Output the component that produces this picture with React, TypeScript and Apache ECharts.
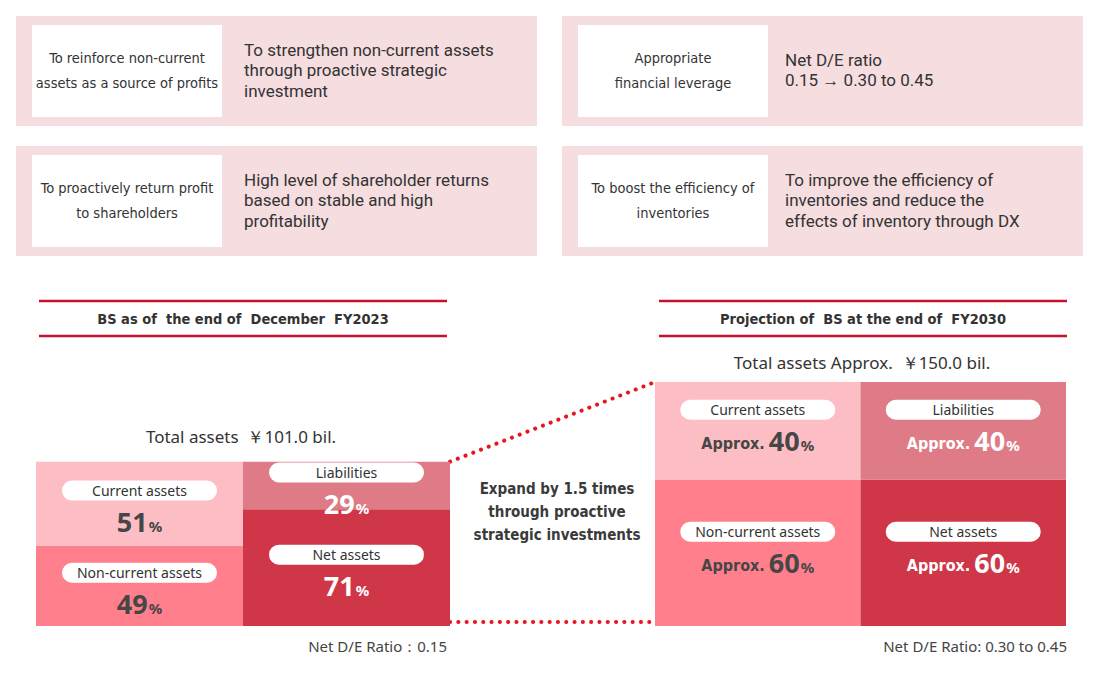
import React, { useEffect, useRef } from "react";
import * as echarts from "echarts";

// ---------- data ----------
const bsCategories = ["Assets", "Liabilities and net assets"];
const bsTitles = ["BS as of  the end of  December  FY2023", "Projection of  BS at the end of  FY2030"];
const bsTotalLabels = ["Total assets  ￥101.0 bil.", "Total assets Approx.  ￥150.0 bil."];
const bsTotals = [101.0, 150.0];
const topNames = ["Current assets", "Liabilities"];
const bottomNames = ["Non-current assets", "Net assets"];
const topPct2023 = [51, 29];
const bottomPct2023 = [49, 71];
const topPct2030 = [40, 40];
const bottomPct2030 = [60, 60];
const approxPrefix = ["", "Approx."];
const deRatioLabels = ["Net D/E Ratio：0.15", "Net D/E Ratio: 0.30 to 0.45"];
const middleText = "Expand by 1.5 times\nthrough proactive\nstrategic investments";

const policyHeads = [
  "To reinforce non-current\nassets as a source of profits",
  "Appropriate\nfinancial leverage",
  "To proactively return profit\nto shareholders",
  "To boost the efficiency of\ninventories",
];
const policyTexts = [
  "To strengthen non-current assets\nthrough proactive strategic\ninvestment",
  "Net D/E ratio\n0.15 → 0.30 to 0.45",
  "High level of shareholder returns\nbased on stable and high\nprofitability",
  "To improve the efficiency of\ninventories and reduce the\neffects of inventory through DX",
];

// ---------- styles ----------
const FONT = "'Noto Sans', 'Open Sans', sans-serif";
const BODY = "Roboto, 'Noto Sans', sans-serif";
const NARROW = "'Liberation Sans Narrow', 'DejaVu Sans Condensed', Roboto, sans-serif";
const topColors = ["#fdbdc4", "#de7b86"];
const bottomColors = ["#ff808c", "#cf3647"];
const textDark = "#464646";
const RED = "#c8102e";
const labelOffsets = [8, 0];

export default function App() {
  const ref = useRef<HTMLDivElement>(null);

  useEffect(() => {
    if (!ref.current) return;
    const chart = echarts.init(ref.current, null, { renderer: "svg" });
    const maxTotal = Math.max(...bsTotals);

    const grids = [
      { left: 36, top: 382, width: 414, height: 244 },
      { left: 655, top: 382, width: 411, height: 244 },
    ];

    const rich = {
      pill: {
        backgroundColor: "#fff",
        borderRadius: 10,
        width: 155,
        height: 20,
        lineHeight: 20,
        align: "center",
        fontSize: 14,
        color: "#333",
        fontFamily: FONT,
      },
      numD: { fontSize: 27, fontWeight: "bold", color: textDark, lineHeight: 42, fontFamily: FONT },
      numW: { fontSize: 27, fontWeight: "bold", color: "#fff", lineHeight: 42, fontFamily: FONT },
      pctD: { fontSize: 15, fontWeight: "bold", color: textDark, lineHeight: 42, fontFamily: FONT, padding: [8, 0, 0, 1] },
      pctW: { fontSize: 15, fontWeight: "bold", color: "#fff", lineHeight: 42, fontFamily: FONT, padding: [8, 0, 0, 1] },
      apxD: { fontSize: 16, fontWeight: "bold", color: textDark, lineHeight: 42, fontFamily: NARROW, padding: [6, 4, 0, 0] },
      apxW: { fontSize: 16, fontWeight: "bold", color: "#fff", lineHeight: 42, fontFamily: NARROW, padding: [6, 4, 0, 0] },
    };

    const makeSeries = (g: number, names: string[], pcts: number[], colors: string[], stackPos: string) => ({
      name: stackPos + g,
      type: "bar",
      xAxisIndex: g,
      yAxisIndex: g,
      stack: "bs" + g,
      barWidth: "100%",
      barCategoryGap: 0,
      data: pcts.map((p, i) => ({
        value: (bsTotals[g] * p) / 100,
        itemStyle: { color: colors[i] },
        label: {
          show: true,
          position: "inside",
          offset: [0, labelOffsets[g]],
          formatter: () => {
            const s = i === 0 ? "D" : "W";
            const apx = approxPrefix[g] ? `{apx${s}|${approxPrefix[g]}}` : "";
            return `{pill|${names[i]}}\n${apx}{num${s}|${p}}{pct${s}|%}`;
          },
          rich,
        },
      })),
    });

    const series: any[] = [
      makeSeries(0, bottomNames, bottomPct2023, bottomColors, "bottom"),
      makeSeries(0, topNames, topPct2023, topColors, "top"),
      makeSeries(1, bottomNames, bottomPct2030, bottomColors, "bottom"),
      makeSeries(1, topNames, topPct2030, topColors, "top"),
    ];

    // static graphics
    const graphics: any[] = [];
    const boxX = [16, 562];
    const boxY = [16, 146];
    const textOffsets = [228, 223];
    for (let r = 0; r < 2; r++) {
      for (let c = 0; c < 2; c++) {
        const idx = r * 2 + c;
        graphics.push({
          type: "rect",
          shape: { x: boxX[c], y: boxY[r], width: 521, height: 110 },
          style: { fill: "#f5dde0" },
          silent: true,
        });
        graphics.push({
          type: "rect",
          shape: { x: boxX[c] + 16, y: boxY[r] + 9, width: 190, height: 92 },
          style: { fill: "#fff" },
          silent: true,
        });
        graphics.push({
          type: "text",
          x: boxX[c] + 111,
          y: boxY[r] + 54,
          style: {
            text: policyHeads[idx],
            align: "center",
            verticalAlign: "middle",
            fontSize: 14.5,
            lineHeight: 25,
            fontFamily: NARROW,
            fill: "#333",
          },
          silent: true,
        });
        graphics.push({
          type: "text",
          x: boxX[c] + textOffsets[c],
          y: boxY[r] + 54,
          style: {
            text: policyTexts[idx],
            align: "left",
            verticalAlign: "middle",
            fontSize: 17,
            lineHeight: 20.5,
            fontFamily: BODY,
            fill: "#333",
          },
          silent: true,
        });
      }
    }

    const titleSpan = [
      [39, 447],
      [659, 1067],
    ];
    titleSpan.forEach(([x1, x2], g) => {
      [301, 336].forEach((y) =>
        graphics.push({
          type: "line",
          shape: { x1, y1: y, x2, y2: y },
          style: { stroke: RED, lineWidth: 2.5 },
          silent: true,
        })
      );
      graphics.push({
        type: "text",
        x: (x1 + x2) / 2,
        y: 319,
        style: {
          text: bsTitles[g],
          align: "center",
          verticalAlign: "middle",
          fontSize: 14.5,
          fontWeight: "bold",
          fontFamily: NARROW,
          fill: "#333",
        },
        silent: true,
      });
    });

    graphics.push({
      type: "text",
      x: 241,
      y: 436,
      style: { text: bsTotalLabels[0], align: "center", verticalAlign: "middle", fontSize: 17, fontFamily: FONT, fill: "#333" },
      silent: true,
    });
    graphics.push({
      type: "text",
      x: 862,
      y: 362,
      style: { text: bsTotalLabels[1], align: "center", verticalAlign: "middle", fontSize: 17, fontFamily: FONT, fill: "#333" },
      silent: true,
    });
    graphics.push({
      type: "text",
      x: 447,
      y: 646,
      style: { text: deRatioLabels[0], align: "right", verticalAlign: "middle", fontSize: 15, fontFamily: FONT, fill: "#444" },
      silent: true,
    });
    graphics.push({
      type: "text",
      x: 1067,
      y: 646,
      style: { text: deRatioLabels[1], align: "right", verticalAlign: "middle", fontSize: 15, fontFamily: FONT, fill: "#444" },
      silent: true,
    });
    graphics.push({
      type: "text",
      x: 557,
      y: 512,
      style: {
        text: middleText,
        align: "center",
        verticalAlign: "middle",
        fontSize: 15,
        lineHeight: 23,
        fontWeight: "bold",
        fontFamily: NARROW,
        fill: "#3a3a3a",
      },
      silent: true,
    });

    chart.setOption({
      animation: false,
      grid: grids,
      xAxis: grids.map((_, g) => ({
        type: "category",
        gridIndex: g,
        data: bsCategories,
        show: false,
        boundaryGap: true,
      })),
      yAxis: grids.map((_, g) => ({
        type: "value",
        gridIndex: g,
        min: 0,
        max: maxTotal,
        show: false,
      })),
      series,
      graphic: graphics,
    });

    // dotted connectors computed from the scales
    const p00 = chart.convertToPixel({ xAxisIndex: 0, yAxisIndex: 0 }, [0, bsTotals[0]]) as number[];
    const p01 = chart.convertToPixel({ xAxisIndex: 0, yAxisIndex: 0 }, [1, 0]) as number[];
    const p10 = chart.convertToPixel({ xAxisIndex: 1, yAxisIndex: 1 }, [0, bsTotals[1]]) as number[];
    const p11 = chart.convertToPixel({ xAxisIndex: 1, yAxisIndex: 1 }, [1, 0]) as number[];
    const leftRight = p01[0] + (p01[0] - p00[0]) / 2;
    const rightLeft = p10[0] - (p11[0] - p10[0]) / 2;
    const dotStyle = { stroke: "#e8141e", lineWidth: 4, lineDash: [0.1, 8.2], lineCap: "round" };
    chart.setOption({
      graphic: [
        ...graphics,
        {
          type: "line",
          shape: { x1: leftRight, y1: p00[1], x2: rightLeft, y2: p10[1] },
          style: dotStyle,
          silent: true,
        },
        {
          type: "line",
          shape: { x1: leftRight, y1: p01[1] - 4, x2: rightLeft, y2: p11[1] - 4 },
          style: dotStyle,
          silent: true,
        },
      ],
    });

    return () => chart.dispose();
  }, []);

  return (
    <div
      ref={ref}
      style={{ position: "absolute", left: 0, top: 0, width: 1096, height: 680, background: "#fff" }}
    />
  );
}
